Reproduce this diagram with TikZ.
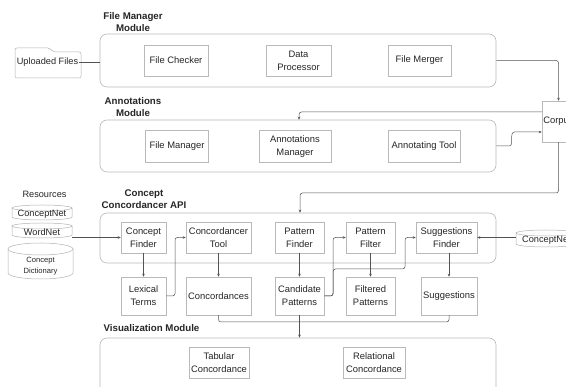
\documentclass[tikz,border=0pt]{standalone}
\usepackage{fontspec}
\setmainfont{Liberation Sans}
\usetikzlibrary{arrows.meta,calc}
\newcommand\mycyl[5]{%
  \pgfmathsetmacro\cxr{(#3-#1)/2}%
  \pgfmathsetmacro\cxm{(#1+#3)/2}%
  \draw[cylline] (#1,#2+#5) -- (#1,#4-#5) arc[start angle=180,end angle=360,x radius=\cxr pt,y radius=#5pt] -- (#3,#2+#5);
  \draw[cylline] (\cxm,#2+#5) ellipse[x radius=\cxr pt, y radius=#5pt];
}
\tikzset{
  box/.style={draw=gray!55, line width=0.5pt, fill=white, text=black!85,
    font=\fontsize{9.4}{12.8}\selectfont, align=center, inner sep=1pt},
  sz/.style 2 args={minimum width=#1pt, minimum height=#2pt},
  module/.style={draw=gray!55, rounded corners=7pt, line width=0.6pt},
  title/.style={font=\bfseries\fontsize{9.7}{12}\selectfont, align=center, text=black!85},
  plain/.style={font=\fontsize{9.2}{12}\selectfont, align=center, text=black!85, inner sep=1pt},
  cylline/.style={draw=gray!60, line width=0.5pt, fill=white},
  conn/.style={draw=gray!65!black, line width=0.5pt, rounded corners=2.5pt},
  arr/.style={conn, -{Stealth[length=3pt,width=2.6pt]}},
}
\begin{document}
\begin{tikzpicture}[x=1pt,y=-1pt]
\useasboundingbox[fill=white] (0,0) rectangle (566,387);

% ---------- File Manager Module ----------
\node[title] (fmt) at (133,22) {File Manager\\Module};
\node[module, sz={396}{53}] (fm) at (298,60.5) {};
\node[box, sz={64}{31}] (fc) at (176,60.5) {File Checker};
\node[box, sz={65}{31}] (dp) at (298.5,60.5) {Data\\Processor};
\node[box, sz={63}{31}] (fmg) at (419.5,60.5) {File Merger};

% uploaded files folder
\draw[cylline, rounded corners=2pt] (15,78) -- (15,48) -- (50,48) -- (53,52) -- (81,52) -- (81,78) -- cycle;
\node[plain] (uf) at (47.5,62.5) {Uploaded Files};
\draw[conn] (uf.east) -- (fm.west |- uf.east);

% ---------- Annotations Module ----------
\node[title] (amt) at (133,107) {Annotations\\Module};
\node[module, sz={396}{52}] (am) at (298,146) {};
\node[box, sz={63}{32}] (afm) at (177,146.5) {File Manager};
\node[box, sz={72}{32}] (anm) at (295,146.5) {Annotations\\Manager};
\node[box, sz={72}{32}] (at) at (424,146.5) {Annotating Tool};

% ---------- Corpus ----------
\node[box, sz={33}{41}] (corpus) at (558.5,121.5) {Corpus};

% ---------- Concept Concordancer API ----------
\node[title] (apit) at (144,199) {Concept\\Concordancer API};
\node[module, sz={396}{50}] (api) at (298,238) {};
\node[box, sz={45}{31}] (cf) at (143.5,237.5) {Concept\\Finder};
\node[box, sz={65}{31}] (ct) at (218.5,237.5) {Concordancer\\Tool};
\node[box, sz={49}{31}] (pf) at (299.5,237.5) {Pattern\\Finder};
\node[box, sz={49}{31}] (pfl) at (370.5,237.5) {Pattern\\Filter};
\node[box, sz={61}{31}] (sf) at (446.5,237.5) {Suggestions\\Finder};

\node[box, sz={45}{38}] (lt) at (143.5,296) {Lexical\\Terms};
\node[box, sz={65}{38}] (cc) at (218.5,296) {Concordances};
\node[box, sz={49}{38}] (cp) at (299.5,296) {Candidate\\Patterns};
\node[box, sz={49}{38}] (fp) at (370.5,296) {Filtered\\Patterns};
\node[box, sz={56}{38}] (sg) at (449,296) {Suggestions};

\draw[arr] (fm.east) -| (corpus.north);
\draw[arr] (corpus.west |- 0,112) -- (299,112) -- (am.north -| 299,0);
\draw[arr] (am.east |- 0,146) -- (507,146) .. controls (514,146) and (509,132) .. (517,132) -- (corpus.west |- 0,132);
\draw[arr] (corpus.south) |- (300,193) -- (api.north -| 300,0);

% ---------- Resources ----------
\node[plain] (rest) at (44.5,194) {Resources};
\mycyl{12}{205}{72}{220}{3}
\node[plain] (cn1) at (42,214) {ConceptNet};
\mycyl{12}{223}{72}{238}{3}
\node[plain] (wn) at (42,232) {WordNet};
\mycyl{8}{243}{73}{279}{6}
\node[plain, font=\fontsize{7.6}{11}\selectfont] (cd) at (40.5,266) {Concept\\Dictionary};
\coordinate (res) at (72,237.5);

\mycyl{516}{230}{576}{247}{3}
\node[plain, anchor=west] (cn2) at (521,240) {ConceptNet};
\coordinate (cnr) at (516,237.5);

% ---------- API connectors ----------
\draw[arr] (res) -- (cf.west);
\draw[arr] (cf.south) -- (lt.north);
\draw[arr] (lt.east) -- (175,296) |- (ct.west);
\draw[arr] (ct.south) -- (cc.north);
\draw[arr] (pf.south) -- (cp.north);
\draw[arr] (cp.east) -- (333,296) |- (pfl.west);
\draw[arr] (cp.east) -- (333,296) -- (333,269) -- (405,269) |- (sf.west);
\draw[arr] (pfl.south) -- (fp.north);
\draw[arr] (sf.south -| sg.north) -- (sg.north);
\draw[arr] (cnr) -- (sf.east);

% ---------- Visualization Module ----------
\node[title] (vmt) at (151.5,328) {Visualization Module};
\node[module, sz={396}{62}] (vis) at (298,369) {};
\node[box, sz={60}{31}] (tc) at (219,362.5) {Tabular\\Concordance};
\node[box, sz={62}{31}] (rc) at (374,362.5) {Relational\\Concordance};

\draw[conn] (cc.south) -- (218.5,322) -- (449,322) -- (sg.south);
\draw[arr] (cp.south) -- (vis.north -| cp.south);
\end{tikzpicture}
\end{document}
